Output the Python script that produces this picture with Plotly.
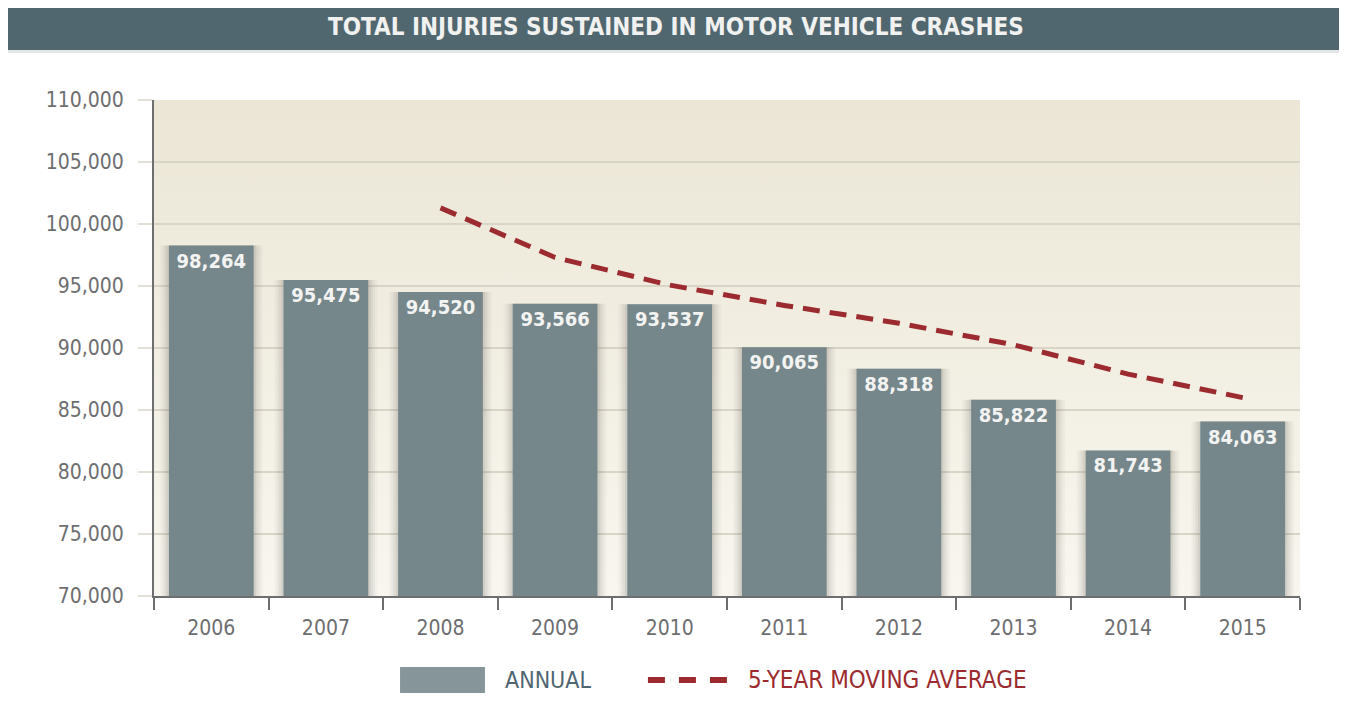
import base64
import plotly.graph_objects as go

years = ["2006", "2007", "2008", "2009", "2010", "2011", "2012", "2013", "2014", "2015"]
annual = [98264, 95475, 94520, 93566, 93537, 90065, 88318, 85822, 81743, 84063]
ma_years = ["2008", "2009", "2010", "2011", "2012", "2013", "2014", "2015"]
moving_avg = [101300, 97300, 95072, 93433, 92001, 90262, 87897, 86002]
y_ticks = [70000, 75000, 80000, 85000, 90000, 95000, 100000, 105000, 110000]

FONT = "Liberation Sans Narrow, DejaVu Sans Condensed, Roboto, sans-serif"
GRAY = "#6d6e70"
BAR = "#76878c"
RED = "#9b2b2e"

fig = go.Figure()

# soft shadow behind bars
for w, a in [(0.90, 0.04), (0.86, 0.06), (0.82, 0.08), (0.78, 0.11)]:
    fig.add_trace(go.Bar(x=years, y=annual, width=w, marker=dict(color=f"rgba(110,105,95,{a})", line_width=0),
                         hoverinfo="skip", showlegend=False))

fig.add_trace(go.Bar(
    x=years, y=annual, width=0.74, name="ANNUAL",
    marker=dict(color=BAR, line_width=0),
    text=[f"<b>{v:,}</b>" for v in annual], textposition="inside", insidetextanchor="end",
    textfont=dict(family=FONT, size=20, color="#f3f3f1"), textangle=0,
    showlegend=False,
))

fig.add_trace(go.Scatter(
    x=ma_years, y=moving_avg, mode="lines", name="5-YEAR MOVING AVERAGE",
    line=dict(color=RED, width=5, dash="17px,10px"), showlegend=False,
))

# gradient plot background via SVG image
svg = ('<svg xmlns="http://www.w3.org/2000/svg" width="100" height="100" preserveAspectRatio="none">'
       '<defs><linearGradient id="g" x1="0" y1="0" x2="0" y2="1">'
       '<stop offset="0" stop-color="#ebe6d5"/><stop offset="1" stop-color="#f8f6ef"/>'
       '</linearGradient></defs><rect width="100" height="100" fill="url(#g)"/></svg>')
src = "data:image/svg+xml;base64," + base64.b64encode(svg.encode()).decode()

shapes = []
# title bar
shapes.append(dict(type="rect", xref="paper", yref="paper", x0=-0.14, x1=1.05,
                   y0=1.101, y1=1.2, fillcolor="#506770", line_width=0))
shapes.append(dict(type="rect", xref="paper", yref="paper", x0=-0.14, x1=1.05,
                   y0=1.095, y1=1.101, fillcolor="#e3e7e8", line_width=0))

# legend
shapes.append(dict(type="rect", xref="paper", yref="paper", x0=0.2147, x1=0.2888,
                   y0=-0.1956, y1=-0.1431, fillcolor="#86959a", line_width=0))
shapes.append(dict(type="line", xref="paper", yref="paper", x0=0.431, x1=0.501,
                   y0=-0.1694, y1=-0.1694, line=dict(color=RED, width=6, dash="17px,14px")))

annotations = [
    dict(text="<b>TOTAL INJURIES SUSTAINED IN MOTOR VEHICLE CRASHES</b>", xref="paper", yref="paper",
         x=0.4555, y=1.147, showarrow=False, font=dict(family=FONT, size=24, color="#f1f1ef"),
         xanchor="center", yanchor="middle"),
    dict(text="ANNUAL", xref="paper", yref="paper", x=0.3045, y=-0.1694, showarrow=False,
         xanchor="left", yanchor="middle", font=dict(family=FONT, size=23, color="#4f6672")),
    dict(text="5-YEAR MOVING AVERAGE", xref="paper", yref="paper", x=0.517, y=-0.1694, showarrow=False,
         xanchor="left", yanchor="middle", font=dict(family=FONT, size=24, color=RED)),
]

fig.update_layout(
    width=1339, height=713,
    margin=dict(l=146, r=47, t=92, b=125),
    paper_bgcolor="white", plot_bgcolor="rgba(0,0,0,0)",
    barmode="overlay",
    shapes=shapes, annotations=annotations,
    images=[dict(source=src, xref="paper", yref="paper", x=0, y=1, sizex=1, sizey=1,
                 xanchor="left", yanchor="top", sizing="stretch", layer="below")],
    font=dict(family=FONT, color=GRAY),
)
fig.update_xaxes(
    type="category", showline=True, linecolor=GRAY, linewidth=2,
    ticks="outside", tickson="boundaries", ticklen=12, tickwidth=2, tickcolor=GRAY,
    tickfont=dict(family=FONT, size=21, color=GRAY), showgrid=False,
    ticklabelstandoff=12,
)
fig.update_yaxes(
    range=[70000, 110000], tickvals=y_ticks, ticktext=[f"{v:,}" for v in y_ticks],
    showline=True, linecolor=GRAY, linewidth=2,
    ticks="outside", ticklen=14, tickwidth=2, tickcolor="#e2dfd6",
    showgrid=True, gridcolor="#d9d5c6", gridwidth=2, zeroline=False,
    tickfont=dict(family=FONT, size=21, color=GRAY),
    ticklabelstandoff=10,
)

fig.write_html("out.html")
